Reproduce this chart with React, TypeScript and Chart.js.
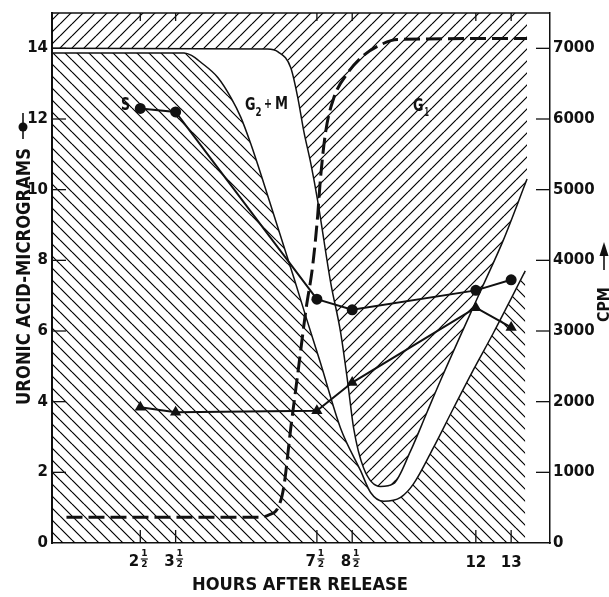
import React, { useEffect, useRef } from 'react';
import { Chart, registerables } from 'chart.js';

Chart.register(...registerables);

const INK = '#111';
const FONT = 'DejaVu Sans';

// ---- tick values ----
const leftTicks = [0, 2, 4, 6, 8, 10, 12, 14];
const rightTicks = [0, 1000, 2000, 3000, 4000, 5000, 6000, 7000];
const hourTicks = [2.5, 3.5, 7.5, 8.5, 12, 13];

// ---- measured series ----
const sampleHours = [2.5, 3.5, 7.5, 8.5, 12, 13];
const uronicAcid = [12.3, 12.2, 6.9, 6.6, 7.15, 7.45];
const cpm = [1920, 1850, 1870, 2270, 3330, 3050];

// ---- dashed curve (left scale) ----
const dashedHours = [0.41, 5.9, 6.15, 6.4, 6.56, 6.76, 6.96, 7.19, 7.38, 7.52, 7.6, 7.75, 7.98, 8.37, 8.82, 9.3, 9.78, 13.45];
const dashedValues = [0.73, 0.73, 0.8, 1.0, 1.57, 3.25, 4.8, 6.6, 7.84, 9.24, 10.3, 11.65, 12.6, 13.3, 13.8, 14.1, 14.25, 14.28];

// ---- S phase boundary (lower hatched region) ----
const sEdgeHours = [0, 3.74, 3.95, 4.22, 4.7, 5.07, 5.35, 5.63, 6.0, 6.85, 7.19, 7.6, 8.17, 8.74, 9.02, 9.39, 9.87, 10.24, 10.8, 11.36, 11.93, 12.5, 13.4];
const sEdge = [13.87, 13.87, 13.8, 13.6, 13.17, 12.6, 12.04, 11.29, 10.17, 7.5, 6.4, 5.1, 3.25, 2.04, 1.43, 1.18, 1.29, 1.68, 2.7, 3.8, 4.9, 5.95, 7.7];

// ---- G1 boundary (upper hatched region) ----
const g1EdgeHours = [0, 6.1, 6.4, 6.76, 6.96, 7.13, 7.33, 7.52, 7.89, 8.17, 8.37, 8.54, 8.82, 9.3, 9.67, 10.15, 10.63, 11.0, 12.21, 12.77, 13.45];
const g1Edge = [14.0, 13.98, 13.9, 13.45, 12.6, 11.65, 10.73, 9.7, 7.37, 5.97, 4.57, 3.25, 2.13, 1.6, 1.68, 2.6, 3.73, 4.6, 7.3, 8.55, 10.3];

const pts = (xs: number[], ys: number[]) => xs.map((x, i) => ({ x, y: ys[i] }));

function makeHatch(ctx: CanvasRenderingContext2D, forward: boolean, size: number) {
  const c = document.createElement('canvas');
  c.width = size;
  c.height = size;
  const g = c.getContext('2d')!;
  g.strokeStyle = '#000';
  g.lineWidth = 1.2;
  g.beginPath();
  for (let k = -1; k <= 1; k++) {
    if (forward) {
      g.moveTo(0, size + k * size);
      g.lineTo(size, k * size);
    } else {
      g.moveTo(0, k * size);
      g.lineTo(size, size + k * size);
    }
  }
  g.stroke();
  return ctx.createPattern(c, 'repeat');
}

function fitText(ctx: CanvasRenderingContext2D, text: string, x: number, y: number, width: number, size: number) {
  ctx.font = `bold ${size}px "${FONT}"`;
  const w = ctx.measureText(text).width;
  ctx.save();
  ctx.translate(x, y);
  ctx.scale(width / w, 1);
  ctx.textAlign = 'left';
  ctx.textBaseline = 'alphabetic';
  ctx.fillText(text, 0, 0);
  ctx.restore();
}

const overlay = {
  id: 'overlay',
  afterDraw(chart: any) {
    const { ctx, chartArea: a, scales } = chart;
    const x = scales.x, y = scales.y, y2 = scales.y2;
    const line = (x1: number, y1: number, x2: number, y2p: number) => {
      ctx.beginPath();
      ctx.moveTo(x1, y1);
      ctx.lineTo(x2, y2p);
      ctx.stroke();
    };
    ctx.save();
    ctx.strokeStyle = INK;
    ctx.fillStyle = INK;
    // top frame
    ctx.lineWidth = 1.5;
    line(a.left, a.top, a.right, a.top);
    // inward ticks
    ctx.lineWidth = 1.3;
    leftTicks.forEach((v) => {
      if (v === 0) return;
      const py = y.getPixelForValue(v);
      line(a.left, py, a.left + 14, py);
    });
    rightTicks.forEach((v) => {
      if (v === 0) return;
      const py = y2.getPixelForValue(v);
      line(a.right - 14, py, a.right, py);
    });
    hourTicks.forEach((v) => {
      const px = x.getPixelForValue(v);
      line(px, a.bottom, px, a.bottom - 13);
      line(px, a.top, px, a.top + 8);
    });
    // x tick labels with stacked fractions
    hourTicks.forEach((v) => {
      const px = x.getPixelForValue(v);
      const whole = Math.floor(v);
      const frac = v - whole;
      ctx.textBaseline = 'middle';
      ctx.font = `bold 15px "${FONT}"`;
      if (frac > 0) {
        ctx.textAlign = 'right';
        ctx.fillText(String(whole), px - 1, 562);
        ctx.font = `bold 9px "${FONT}"`;
        ctx.textAlign = 'center';
        ctx.fillText('1', px + 4, 553.5);
        ctx.fillText('2', px + 4, 564.5);
        ctx.lineWidth = 1.2;
        line(px + 0.5, 559, px + 7.5, 559);
      } else {
        ctx.textAlign = 'center';
        ctx.fillText(String(v), px, 563);
      }
    });
    // x title
    fitText(ctx, 'HOURS AFTER RELEASE', 192, 590, 216, 17);
    // left title
    ctx.save();
    ctx.translate(30, 405);
    ctx.rotate(-Math.PI / 2);
    fitText(ctx, 'URONIC ACID-MICROGRAMS', 0, 0, 257, 19);
    ctx.restore();
    ctx.lineWidth = 1.6;
    line(23, 113, 23, 139);
    ctx.beginPath();
    ctx.arc(23, 127, 4.5, 0, Math.PI * 2);
    ctx.fill();
    // right title
    ctx.save();
    ctx.translate(609, 322);
    ctx.rotate(-Math.PI / 2);
    fitText(ctx, 'CPM', 0, 0, 35, 15);
    ctx.restore();
    line(604, 250, 604, 270);
    ctx.beginPath();
    ctx.moveTo(604, 242);
    ctx.lineTo(608.5, 256);
    ctx.lineTo(599.5, 256);
    ctx.closePath();
    ctx.fill();
    // phase labels
    fitText(ctx, 'S', 121, 110, 9, 17);
    fitText(ctx, 'G', 245, 110, 10.5, 17);
    fitText(ctx, '2', 255.5, 115.5, 6, 12);
    fitText(ctx, '+', 264, 108, 8, 14);
    fitText(ctx, 'M', 275, 109, 13, 17);
    fitText(ctx, 'G', 413, 111, 10.5, 17);
    fitText(ctx, '1', 424.5, 116, 4.5, 12);
    ctx.restore();
  },
};

export default function App() {
  const ref = useRef<HTMLCanvasElement | null>(null);
  useEffect(() => {
    document.body.style.margin = '0';
    const canvas = ref.current!;
    const ctx = canvas.getContext('2d')!;
    const hatchBack = makeHatch(ctx, false, 12);
    const hatchFwd = makeHatch(ctx, true, 12);
    const tickFont = { family: FONT, size: 15, weight: 'bold' as const };
    const chart = new Chart(canvas, {
      type: 'line',
      data: {
        datasets: [
          {
            label: 'Uronic acid',
            data: pts(sampleHours, uronicAcid),
            yAxisID: 'y',
            borderColor: INK,
            backgroundColor: INK,
            borderWidth: 2,
            pointRadius: 5.5,
            pointStyle: 'circle',
            pointBorderWidth: 0,
            fill: false,
          },
          {
            label: 'CPM',
            data: pts(sampleHours, cpm),
            yAxisID: 'y2',
            borderColor: INK,
            backgroundColor: INK,
            borderWidth: 2,
            pointRadius: 6.5,
            pointStyle: 'triangle',
            pointBorderWidth: 0,
            fill: false,
          },
          {
            label: 'dashed',
            data: pts(dashedHours, dashedValues),
            yAxisID: 'y',
            borderColor: INK,
            borderWidth: 3,
            borderDash: [16, 6],
            pointRadius: 0,
            cubicInterpolationMode: 'monotone',
            fill: false,
          },
          {
            label: 'G1 edge',
            data: pts(g1EdgeHours, g1Edge),
            yAxisID: 'y',
            borderColor: INK,
            borderWidth: 1.5,
            pointRadius: 0,
            cubicInterpolationMode: 'monotone',
            fill: 'end',
            backgroundColor: hatchFwd as any,
          },
          {
            label: 'S edge',
            data: pts(sEdgeHours, sEdge),
            yAxisID: 'y',
            borderColor: INK,
            borderWidth: 1.5,
            pointRadius: 0,
            cubicInterpolationMode: 'monotone',
            fill: 'start',
            backgroundColor: hatchBack as any,
          },
        ],
      },
      options: {
        responsive: false,
        animation: false,
        layout: { padding: { top: 9, left: 0, right: 0, bottom: 0 } },
        plugins: { legend: { display: false }, tooltip: { enabled: false } },
        scales: {
          x: {
            type: 'linear',
            min: 0,
            max: 14.1,
            z: 1,
            ticks: { display: false },
            grid: { display: false, drawTicks: false },
            border: { display: true, color: INK, width: 1.5 },
            afterFit: (s: any) => { s.height = 54; },
          },
          y: {
            type: 'linear',
            position: 'left',
            min: 0,
            max: 15,
            z: 1,
            afterBuildTicks: (s: any) => { s.ticks = leftTicks.map((value) => ({ value })); },
            ticks: { font: tickFont, color: INK, padding: 4, callback: (v: any) => String(v) },
            grid: { display: false, drawTicks: false },
            border: { display: true, color: INK, width: 2 },
            afterFit: (s: any) => { s.width = 52; },
          },
          y2: {
            type: 'linear',
            position: 'right',
            min: 0,
            max: 7500,
            z: 1,
            afterBuildTicks: (s: any) => { s.ticks = rightTicks.map((value) => ({ value })); },
            ticks: { font: tickFont, color: INK, padding: 3, callback: (v: any) => String(v) },
            grid: { display: false, drawTicks: false },
            border: { display: true, color: INK, width: 1.5 },
            afterFit: (s: any) => { s.width = 59; },
          },
        },
      },
      plugins: [overlay],
    });
    return () => chart.destroy();
  }, []);
  return (
    <div style={{ width: 609, height: 597, background: '#fff' }}>
      <canvas ref={ref} width={609} height={597} style={{ display: 'block' }} />
    </div>
  );
}
